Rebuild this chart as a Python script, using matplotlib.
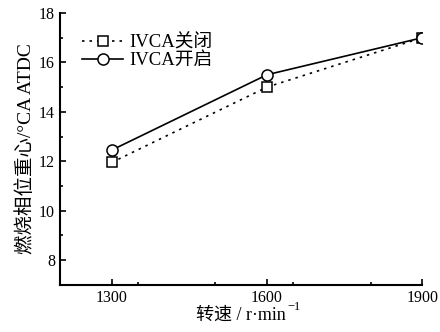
import numpy as np
import matplotlib.pyplot as plt
from matplotlib.ticker import MultipleLocator

plt.rcParams['font.family'] = ['Liberation Serif', 'Noto Sans CJK SC']

speed = [1300, 1600, 1900]
ivca_off = [11.95, 15.0, 17.0]
ivca_on = [12.45, 15.5, 17.0]

fig = plt.figure(figsize=(4.4, 3.32), dpi=100)
ax = fig.add_axes([0.136, 0.142, 0.824, 0.819])

ax.plot(speed, ivca_off, color='k', linestyle=(0, (1.5, 3)), lw=1.2,
        marker='s', ms=6.5, mfc='white', mec='k', mew=1.1, label='IVCA关闭')
ax.plot(speed, ivca_on, color='k', linestyle='-', lw=1.2,
        marker='o', ms=8, mfc='white', mec='k', mew=1.1, label='IVCA开启')

ax.set_xlim(1200, 1900)
ax.set_ylim(7, 18)
ax.set_xticks([1300, 1600, 1900])
ax.xaxis.set_minor_locator(MultipleLocator(150))
ax.set_yticks([8, 10, 12, 14, 16, 18])
ax.yaxis.set_minor_locator(MultipleLocator(1))
ax.tick_params(direction='in', length=4, width=1.2, labelsize=11.5)
ax.tick_params(which='minor', direction='in', length=2.5, width=1.2)
for s in ['top', 'right']:
    ax.spines[s].set_visible(False)
for s in ['left', 'bottom']:
    ax.spines[s].set_linewidth(1.5)

xl = ax.set_xlabel('转速 / r·min', fontsize=13, labelpad=1)
ax.annotate('−1', xy=(1, 1), xycoords=xl, xytext=(1, -4),
            textcoords='offset points', fontsize=9, va='bottom', ha='left')
ax.set_ylabel('燃烧相位重心/°CA ATDC', fontsize=14, labelpad=3)
ax.legend(loc='upper left', bbox_to_anchor=(0.03, 0.965), frameon=False,
          fontsize=13.5, handlelength=2.2, handletextpad=0.3, labelspacing=0.05,
          borderaxespad=0.2)

fig.savefig('out.png', dpi=100)
